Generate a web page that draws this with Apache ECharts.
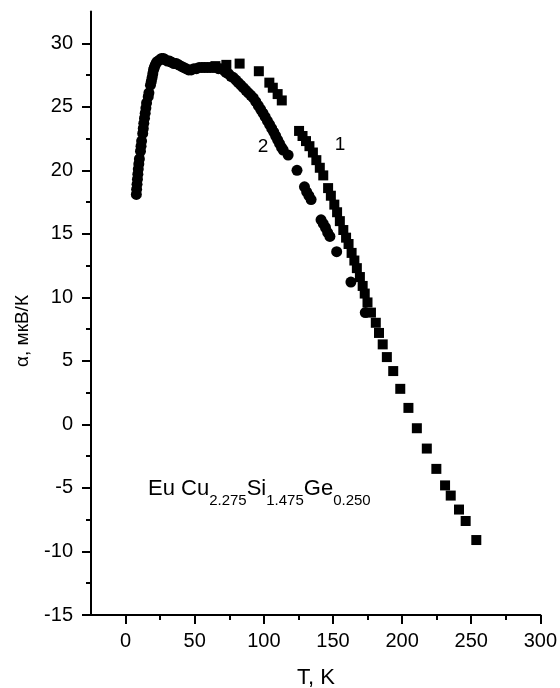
<!DOCTYPE html>
<html>
<head>
<meta charset="utf-8">
<script src="https://cdn.jsdelivr.net/npm/echarts@6/dist/echarts.min.js"></script>
<style>
  html, body { margin: 0; padding: 0; background: #fff; }
  #chart { width: 560px; height: 688px; }
</style>
</head>
<body>
<div id="chart"></div>
<script>
// curve 1 (squares): T, K / alpha, uV/K
const sqT = [58, 65, 72.9, 82.5, 96.4, 104, 106.5, 110, 113,
  125.5, 128, 130.5, 133, 135.5, 138, 140.5, 143, 146.5, 148.5, 151, 153, 155, 157.5, 159.5,
  161.3, 163.5, 165.5, 167.3, 169.5, 171.5, 173, 175, 177.5, 181, 183.3, 186, 189, 193.6,
  198.7, 204.6, 210.7, 217.9, 224.8, 231.1, 235.2, 241.2, 246, 253.7];
const sqA = [28.1, 28.2, 28.3, 28.4, 27.8, 26.9, 26.5, 26.0, 25.5,
  23.1, 22.7, 22.3, 21.9, 21.4, 20.8, 20.2, 19.6, 18.6, 18.0, 17.3, 16.7, 16.0, 15.3, 14.7,
  14.2, 13.5, 12.9, 12.3, 11.6, 10.9, 10.3, 9.6, 8.8, 8.0, 7.2, 6.3, 5.3, 4.2,
  2.8, 1.3, -0.3, -1.9, -3.5, -4.8, -5.6, -6.7, -7.6, -9.1];

// curve 2 (circles)
const ciT = [7.8, 8.0, 8.3, 8.6, 8.9, 9.2, 9.6, 10.0, 10.8, 11.2, 11.6, 12.4, 12.8, 13.2, 13.7,
  14.2, 14.7, 15.2, 16.4, 16.9, 18.0, 18.6, 19.2, 19.7, 20.2, 20.8, 21.5, 22.4, 23.5, 24.8,
  26.0, 27.4, 28.8, 30.3, 31.8, 33.4, 35.0, 36.7, 38.4, 40.2, 42.0, 43.8, 45.6, 47.5, 49.4,
  51.3, 53.2, 55.2, 57.2, 59.2, 61.2, 63.2, 65.2, 67.2, 69.0, 70.8, 72.6, 74.4, 76.2, 78.0,
  79.8, 81.6, 83.4, 85.2, 87.0, 88.8, 90.6, 92.4, 94.2, 96.0, 97.7, 99.4, 101.0, 102.6,
  104.2, 105.7, 107.2, 108.6, 110.0, 111.4, 112.8, 114.0,
  117.6, 124.0, 129.4, 131.0, 132.6, 134.2, 141.4, 143.0, 144.6, 146.2, 147.8, 152.7, 163.0, 173.4];
const ciA = [18.1, 18.5, 18.9, 19.3, 19.7, 20.1, 20.5, 20.9, 21.5, 21.9, 22.3, 22.9, 23.3, 23.7, 24.1,
  24.5, 24.9, 25.3, 25.8, 26.1, 26.7, 27.0, 27.3, 27.6, 27.9, 28.1, 28.3, 28.5, 28.6, 28.7,
  28.8, 28.8, 28.7, 28.6, 28.6, 28.5, 28.4, 28.4, 28.3, 28.2, 28.1, 28.0, 27.9, 27.9, 28.0,
  28.0, 28.1, 28.1, 28.1, 28.1, 28.1, 28.1, 28.1, 28.0, 28.0, 27.9, 27.7, 27.6, 27.4, 27.3,
  27.1, 26.9, 26.7, 26.5, 26.3, 26.1, 25.9, 25.7, 25.4, 25.1, 24.8, 24.5, 24.2, 23.9,
  23.6, 23.3, 23.0, 22.7, 22.4, 22.1, 21.8, 21.6,
  21.2, 20.0, 18.7, 18.3, 18.0, 17.7, 16.1, 15.8, 15.5, 15.1, 14.8, 13.6, 11.2, 8.8];

const xMajor = [0, 50, 100, 150, 200, 250, 300];
const xMinor = [25, 75, 125, 175, 225, 275];
const yMajor = [-15, -10, -5, 0, 5, 10, 15, 20, 25, 30];
const yMinor = [-12.5, -7.5, -2.5, 2.5, 7.5, 12.5, 17.5, 22.5, 27.5];

// compound formula: [text, isSubscript]
const formula = [['Eu Cu', false], ['2.275', true], ['Si', false], ['1.475', true], ['Ge', false], ['0.250', true]];

const font = '"Liberation Sans", Arial, sans-serif';
const black = '#000';

const chart = echarts.init(document.getElementById('chart'));

function xAx(ticks, len, labels, line) {
  return {
    type: 'value', min: -25, max: 300, position: 'bottom',
    axisLine: { show: line, onZero: false, lineStyle: { color: black, width: 2 } },
    axisTick: { show: true, length: len, customValues: ticks, lineStyle: { color: black, width: 2 } },
    axisLabel: labels ? { customValues: ticks, color: black, fontSize: 20, fontFamily: font, margin: 16 } : { show: false },
    splitLine: { show: false }
  };
}
function yAx(ticks, len, labels, line) {
  return {
    type: 'value', min: -15, max: 32.5, position: 'left',
    axisLine: { show: line, onZero: false, lineStyle: { color: black, width: 2 } },
    axisTick: { show: true, length: len, customValues: ticks, lineStyle: { color: black, width: 2 } },
    axisLabel: labels ? { customValues: ticks, color: black, fontSize: 20, fontFamily: font, margin: 18 } : { show: false },
    splitLine: { show: false }
  };
}

// lay out the formula piece by piece (main text + lowered subscripts)
const ctx = document.createElement('canvas').getContext('2d');
const formulaGraphics = [];
let fx = 148;
formula.forEach(([txt, sub]) => {
  const f = (sub ? '15px ' : '22px ') + font;
  ctx.font = f;
  formulaGraphics.push({
    type: 'text', x: fx, y: sub ? 508 : 500,
    style: { text: txt, font: f, fill: black, align: 'left', verticalAlign: 'bottom' }
  });
  fx += ctx.measureText(txt).width;
});

chart.setOption({
  backgroundColor: '#fff',
  animation: false,
  grid: { left: 91, right: 19, top: 11.5, bottom: 73 },
  xAxis: [xAx(xMajor, 9, true, true), xAx(xMinor, 5, false, false)],
  yAxis: [yAx(yMajor, 9, true, true), yAx(yMinor, 5, false, false)],
  series: [
    {
      name: '1', type: 'scatter', symbol: 'rect', symbolSize: 10,
      itemStyle: { color: black, opacity: 1 },
      data: sqT.map((t, i) => [t, sqA[i]])
    },
    {
      name: '2', type: 'scatter', symbol: 'circle', symbolSize: 11,
      itemStyle: { color: black, opacity: 1 },
      data: ciT.map((t, i) => [t, ciA[i]])
    }
  ],
  graphic: [
    { type: 'text', x: 23, y: 331, rotation: Math.PI / 2,
      style: { text: 'α, мкВ/К', font: '19px ' + font, fill: black, align: 'center', verticalAlign: 'middle' } },
    { type: 'text', x: 316, y: 678,
      style: { text: 'T, K', font: '22px ' + font, fill: black, align: 'center', verticalAlign: 'middle' } },
    { type: 'text', x: 263, y: 147,
      style: { text: '2', font: '19px ' + font, fill: black, align: 'center', verticalAlign: 'middle' } },
    { type: 'text', x: 340, y: 145,
      style: { text: '1', font: '19px ' + font, fill: black, align: 'center', verticalAlign: 'middle' } }
  ].concat(formulaGraphics)
});
</script>
</body>
</html>
